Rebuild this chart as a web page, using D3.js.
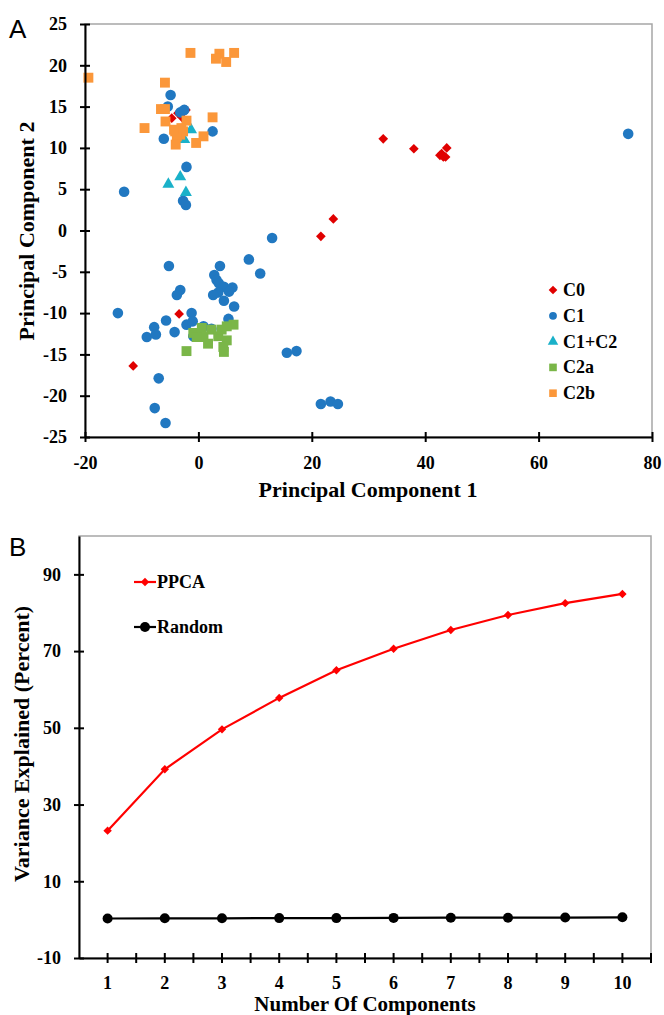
<!DOCTYPE html>
<html>
<head>
<meta charset="utf-8">
<script src="https://cdn.jsdelivr.net/npm/d3@7"></script>
<style>
  body { margin: 0; background: #fff; }
  text { font-family: "Liberation Serif", "Times New Roman", serif; font-weight: bold; fill: #000; }
  .panel { font-family: "Liberation Sans", Arial, sans-serif; font-weight: normal; font-size: 26px; }
</style>
</head>
<body>
<svg width="664" height="1015"></svg>
<script>
// ---- panel A data (PC1, PC2) ----
var c0X = [32.6, 38.0, 42.9, 43.8, 43.2, 42.6, 43.6, 23.8, 21.6, -3.4, -11.5, -4.7, -2.2, -3.6, -2.9];
var c0Y = [11.1, 9.9, 9.3, 10.0, 8.9, 9.1, 8.9, 1.4, -0.7, -10.1, -16.4, 13.6, 14.6, 14.2, 13.7];

var c1X = [-4.9, -5.4, -3.2, -2.5, -6.1, 2.5, -2.1, -13.1, -2.7, -2.2, 75.8,
  13.0, -5.2, 3.8, 8.9, 10.9, 2.8, 3.2, 3.6, 4.5, 6.0, 5.4, 3.5, 2.6, 4.5, 6.3,
  -3.2, -3.8, -14.2, -5.7, -1.2, -2.1, -1.0, -7.8, -9.1, -7.5, -4.2, 0.9, 2.3, -0.9, 5.3,
  -7.0, -7.7, -5.8, 15.6, 17.3, 21.6, 23.3, 24.6];
var c1Y = [16.4, 15.0, 14.3, 14.6, 11.1, 12.0, 7.7, 4.7, 3.6, 3.1, 11.7,
  -0.9, -4.3, -4.3, -3.5, -5.2, -5.4, -6.0, -6.4, -6.8, -6.9, -7.4, -7.5, -7.8, -8.5, -9.2,
  -7.2, -7.8, -10.0, -10.9, -10.0, -11.4, -11.0, -11.7, -12.9, -12.6, -12.3, -11.6, -11.9, -12.8, -10.7,
  -17.9, -21.5, -23.3, -14.8, -14.6, -21.0, -20.7, -21.0];

var c12X = [-3.2, -5.3, -2.2, -1.3, -2.5];
var c12Y = [6.5, 5.6, 4.6, 12.2, 11.0];

var c2aX = [-2.1, -0.9, 0.6, 0.9, 1.7, 2.3, 3.5, 4.1, 5.0, 4.4, 4.5, 6.2, 5.0, -0.3];
var c2aY = [-14.6, -12.4, -11.8, -12.9, -13.7, -12.0, -12.8, -12.0, -13.3, -14.1, -14.7, -11.4, -11.6, -12.9];

var c2bX = [-1.4, 3.7, 3.1, 4.9, 6.3, -19.4, -5.9, -6.6, -5.9, -5.8, -9.5, -2.1, 2.5,
  -4.1, -3.2, -2.7, -3.8, -3.0, 0.9, -0.4, -4.0, -4.3];
var c2bY = [21.5, 21.4, 20.8, 20.4, 21.5, 18.5, 17.9, 14.7, 14.7, 13.2, 12.4, 13.3, 13.7,
  12.0, 11.6, 12.0, 11.4, 12.4, 11.4, 10.6, 10.4, 12.2];

var pcXTicks = [-20, 0, 20, 40, 60, 80];
var pcYTicks = [-25, -20, -15, -10, -5, 0, 5, 10, 15, 20, 25];

// ---- panel B data ----
var components = [1, 2, 3, 4, 5, 6, 7, 8, 9, 10];
var ppca = [23.2, 39.2, 49.6, 57.8, 65.0, 70.6, 75.5, 79.4, 82.5, 84.9];
var random = [0.3, 0.35, 0.35, 0.4, 0.4, 0.45, 0.5, 0.5, 0.55, 0.6];
var varTicks = [-10, 10, 30, 50, 70, 90];

var svg = d3.select("svg");
var serif = '"Liberation Serif", "Times New Roman", serif';
var plain = function (d) { return String(d); };

// cross style ticks like excel, serif bold labels
var styleAxis = function (sel, horiz) {
  sel.attr("font-family", serif).attr("font-weight", "bold");
  sel.selectAll(".tick line")
    .attr(horiz ? "y1" : "x1", -5)
    .attr(horiz ? "y2" : "x2", 5)
    .attr("stroke", "#000")
    .attr("stroke-width", 2);
  sel.selectAll("text").attr("font-size", 18).style("font-family", serif);
  sel.select(".domain").attr("stroke", "#000").attr("stroke-width", 2);
};

// ================= panel A =================
var x = d3.scaleLinear().domain([-20, 80]).range([85, 652]),
    y = d3.scaleLinear().domain([-25, 25]).range([437, 24]);

svg.append("text").attr("class", "panel").attr("x", 9).attr("y", 38).text("A");

// plot border (grey)
svg.append("rect")
    .attr("x", x(-20)).attr("y", y(25))
    .attr("width", x(80) - x(-20)).attr("height", y(-25) - y(25))
    .attr("fill", "none").attr("stroke", "#a6a6a6").attr("stroke-width", 1.5);

var series = [
  {name: "C0", xs: c0X, ys: c0Y, color: "#e00000", shape: d3.symbolDiamond2, size: 60},
  {name: "C1", xs: c1X, ys: c1Y, color: "#2178c1", shape: d3.symbolCircle, size: 88},
  {name: "C1+C2", xs: c12X, ys: c12Y, color: "#1ab1c9", shape: d3.symbolTriangle, size: 62},
  {name: "C2a", xs: c2aX, ys: c2aY, color: "#7ab648", shape: d3.symbolSquare, size: 98},
  {name: "C2b", xs: c2bX, ys: c2bY, color: "#fb973a", shape: d3.symbolSquare, size: 98}
];

series.forEach(function (s) {
  var pts = s.xs.map(function (v, i) { return [v, s.ys[i]]; });
  svg.append("g").selectAll("path")
    .data(pts)
    .enter().append("path")
      .attr("d", d3.symbol().type(s.shape).size(s.size))
      .attr("transform", function (d) { return "translate(" + x(d[0]) + "," + y(d[1]) + ")"; })
      .attr("fill", s.color);
});

var gxA = svg.append("g")
    .attr("transform", "translate(0," + y(-25) + ")")
    .call(d3.axisBottom(x).tickValues(pcXTicks).tickFormat(plain).tickSizeOuter(0).tickPadding(10));
styleAxis(gxA, true);
gxA.selectAll("text").attr("dy", "0.9em");

var gyA = svg.append("g")
    .attr("transform", "translate(" + x(-20) + ",0)")
    .call(d3.axisLeft(y).tickValues(pcYTicks).tickFormat(plain).tickSizeOuter(0).tickPadding(12));
styleAxis(gyA, false);

svg.append("text")
    .attr("x", 368).attr("y", 497)
    .attr("text-anchor", "middle").attr("font-size", 22)
    .text("Principal Component 1");

svg.append("text")
    .attr("transform", "translate(34,231) rotate(-90)")
    .attr("text-anchor", "middle").attr("font-size", 22)
    .text("Principal Component 2");

// legend A
var legA = svg.append("g");
series.forEach(function (s, i) {
  var ly = 290 + i * 25.8;
  legA.append("path")
      .attr("d", d3.symbol().type(s.shape).size(s.shape === d3.symbolSquare ? 58 : 48))
      .attr("transform", "translate(553," + ly + ")")
      .attr("fill", s.color);
  legA.append("text")
      .attr("x", 563).attr("y", ly + 6)
      .attr("font-size", 18)
      .text(s.name);
});

// ================= panel B =================
var xb = d3.scaleBand().domain(components).range([79, 651]).padding(0),
    yb = d3.scaleLinear().domain([-10, 100]).range([958, 536]);

svg.append("text").attr("class", "panel").attr("x", 9).attr("y", 556).text("B");

svg.append("rect")
    .attr("x", 79).attr("y", yb(100))
    .attr("width", 651 - 79).attr("height", yb(-10) - yb(100))
    .attr("fill", "none").attr("stroke", "#a6a6a6").attr("stroke-width", 1.5);

var cx = function (d) { return xb(d) + xb.bandwidth() / 2; };

var lineB = function (vals) {
  return d3.line()
    .x(function (d, i) { return cx(components[i]); })
    .y(function (d) { return yb(d); })(vals);
};

svg.append("path").attr("d", lineB(ppca))
    .attr("fill", "none").attr("stroke", "#ff0000").attr("stroke-width", 2.2);
svg.append("g").selectAll("path")
  .data(ppca)
  .enter().append("path")
    .attr("d", d3.symbol().type(d3.symbolDiamond2).size(45))
    .attr("transform", function (d, i) { return "translate(" + cx(components[i]) + "," + yb(d) + ")"; })
    .attr("fill", "#ff0000");

svg.append("path").attr("d", lineB(random))
    .attr("fill", "none").attr("stroke", "#000").attr("stroke-width", 2.2);
svg.append("g").selectAll("circle")
  .data(random)
  .enter().append("circle")
    .attr("cx", function (d, i) { return cx(components[i]); })
    .attr("cy", function (d) { return yb(d); })
    .attr("r", 5)
    .attr("fill", "#000");

var gxB = svg.append("g")
    .attr("transform", "translate(0," + yb(-10) + ")")
    .call(d3.axisBottom(xb).tickSize(0).tickPadding(18));
styleAxis(gxB, true);
// ticks between categories
gxB.selectAll(".sep")
  .data(components)
  .enter().append("line")
    .attr("x1", function (d) { return xb(d) + xb.bandwidth(); })
    .attr("x2", function (d) { return xb(d) + xb.bandwidth(); })
    .attr("y1", -5).attr("y2", 5)
    .attr("stroke", "#000").attr("stroke-width", 2);

var gyB = svg.append("g")
    .attr("transform", "translate(79,0)")
    .call(d3.axisLeft(yb).tickValues(varTicks).tickFormat(plain).tickSizeOuter(0).tickPadding(12));
styleAxis(gyB, false);

svg.append("text")
    .attr("x", 365).attr("y", 1011)
    .attr("text-anchor", "middle").attr("font-size", 21)
    .text("Number Of Components");

svg.append("text")
    .attr("transform", "translate(29,744) rotate(-90)")
    .attr("text-anchor", "middle").attr("font-size", 22)
    .text("Variance Explained (Percent)");

// legend B
var legB = [
  {name: "PPCA", color: "#ff0000", y: 582, mark: "diamond"},
  {name: "Random", color: "#000", y: 627, mark: "circle"}
];
legB.forEach(function (l) {
  svg.append("line")
      .attr("x1", 134).attr("x2", 156).attr("y1", l.y).attr("y2", l.y)
      .attr("stroke", l.color).attr("stroke-width", 2.2);
  if (l.mark === "diamond") {
    svg.append("path")
        .attr("d", d3.symbol().type(d3.symbolDiamond2).size(45))
        .attr("transform", "translate(145," + l.y + ")")
        .attr("fill", l.color);
  } else {
    svg.append("circle").attr("cx", 145).attr("cy", l.y).attr("r", 5).attr("fill", l.color);
  }
  svg.append("text")
      .attr("x", 157).attr("y", l.y + 6)
      .attr("font-size", 18)
      .text(l.name);
});
</script>
</body>
</html>
